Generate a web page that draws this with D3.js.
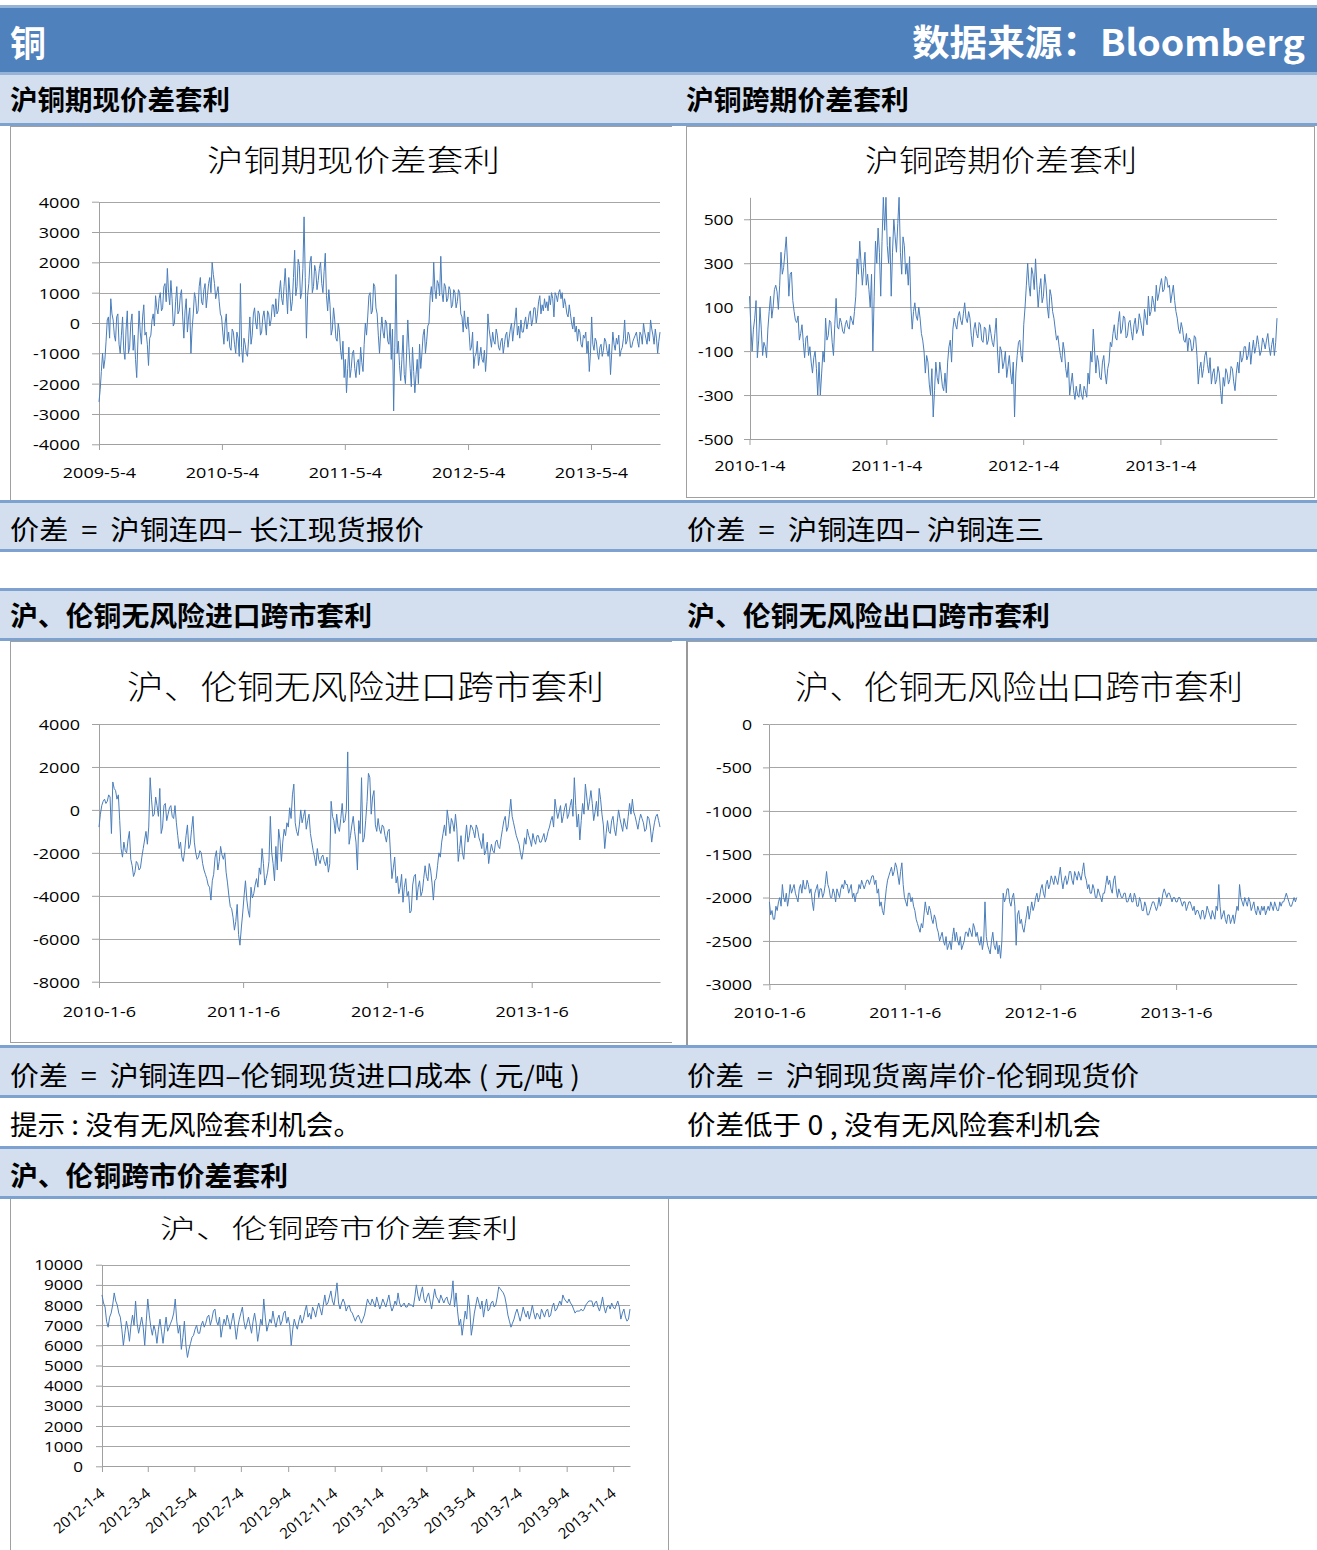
<!DOCTYPE html>
<html><head><meta charset="utf-8">
<script src="https://cdn.jsdelivr.net/npm/d3@7"></script>
<style>
html,body{margin:0;padding:0;background:#fff;}
svg{display:block;}
text{white-space:pre;}
</style></head><body>
<svg id="page" width="1317" height="1550"></svg>
<script>
// ---------------- DATA ----------------
// Chart 1: 沪铜期现价差套利 (samples every 84 hours from start date)
const c1Start = "2009-5-4", c1StepHours = 84;
const c1Values = [
-2600,-2200,-1600,-1000,-1500,-1200,-600,100,200,-500,800,300,100,-400,-600,200,300,-700,-1000,-400,
200,-900,-1200,-200,400,-1000,-800,0,300,-900,-400,-1200,-1800,-600,400,-300,-700,200,600,-400,
-300,-700,-1400,-500,-400,100,300,-100,900,500,300,800,1000,400,500,1200,1300,700,1800,1000,
600,1400,800,-100,0,700,1200,300,400,900,1100,200,-500,400,800,-300,200,500,-1000,-200,
300,1000,800,300,400,1200,1500,700,600,1100,1300,500,900,1300,1500,1000,2000,1600,1300,800,
1000,1200,700,300,200,-300,-700,0,300,-600,-300,-800,-900,-200,-300,-700,-1000,-300,-500,-1100,
1300,-800,-1300,-500,-700,-1000,-1100,-500,200,-700,-400,300,500,0,-200,400,300,-400,-300,200,
400,0,-400,400,300,-100,100,600,600,200,800,300,400,1000,1400,800,600,1200,1800,1000,
300,1500,1000,400,700,1500,2400,900,1200,2100,1900,800,1000,1800,3500,1500,-500,900,1300,2000,
2200,1000,1200,1900,1700,1100,1400,1800,2000,1300,1000,1700,2300,900,400,1100,600,-400,-200,500,
100,-500,-600,0,-300,-900,-1200,-600,-1800,-1200,-2300,-1500,-800,-1800,-1500,-1000,-900,-1500,-1800,-1300,
-1200,-1700,-800,-1300,-1600,-700,0,-400,200,900,1000,300,400,1300,1200,500,300,-400,-1000,-300,
200,-300,-500,100,0,-600,-700,0,-1200,-200,-2900,-800,1600,-1000,-600,-1400,-1900,-1200,-400,-1700,
-2000,-1000,100,-800,-1500,-2100,-800,-1600,-2300,-1700,-1200,-2000,-700,-1500,-1000,-400,-200,-1000,-600,-100,
0,900,1200,700,2000,1100,800,1400,1300,900,2200,1000,700,1300,1200,700,800,1200,1100,500,
600,1100,1000,500,700,1100,1000,300,200,-300,400,-100,-200,200,-300,-900,-800,-300,-1500,-1100,
-1000,-600,-1400,-1100,-800,-1200,-1300,-900,-1600,-1000,300,-200,-500,-800,-300,-600,-700,-200,-400,-800,
-900,-600,-500,-1000,-700,-400,-300,-800,-500,-200,0,-600,-200,100,500,-400,-100,-500,100,-300,
-300,0,200,-200,0,300,400,-100,100,500,500,0,300,700,900,300,600,400,800,500,
700,400,900,600,1000,800,200,1000,900,700,1000,1100,800,1000,500,800,600,300,200,600,
300,0,-200,200,-300,-100,-600,-200,-300,-700,-800,-400,-500,-300,-1000,-600,-1600,-1000,200,-700,
-900,-500,-600,-1000,-1200,-800,-700,-1100,-900,-500,-600,-900,-1100,-700,-1700,-1000,-300,-700,-900,-500,
-700,-400,-1100,-900,-800,-500,100,-700,-600,-300,-400,-800,-800,-600,-500,-400,-300,-600,-800,-300,
-400,-700,0,-300,-500,-700,-300,-600,100,-200,-400,-700,-200,-500,-1000,-600,-300];
const c1YTicks = [-4000,-3000,-2000,-1000,0,1000,2000,3000,4000];
const c1XTicks = ["2009-5-4","2010-5-4","2011-5-4","2012-5-4","2013-5-4"];

// Chart 2: 沪铜跨期价差套利 (samples every 84 hours)
const c2Start = "2010-1-4", c2StepHours = 84;
const c2Values = [
150,20,-100,0,50,130,-130,-50,100,0,-120,-60,-80,-130,0,80,150,50,100,180,
200,170,90,200,350,250,280,350,420,300,150,250,260,130,80,40,30,60,-50,-20,
20,-60,-130,-40,-30,-120,-80,-150,-200,-130,-100,-180,-300,-150,-300,-200,-100,-150,50,-50,
-30,40,30,-60,-120,20,140,10,0,50,30,-10,-20,20,40,10,0,60,40,20,
80,150,320,250,400,300,200,280,350,200,250,180,100,250,-100,150,400,300,460,350,
150,400,600,450,600,380,300,420,150,350,500,420,350,480,600,350,250,420,380,250,
300,200,330,100,0,80,120,60,40,100,50,-20,-50,-100,-200,-120,-150,-250,-300,-180,
-400,-280,-150,-220,-250,-150,-200,-260,-280,-200,-290,-150,-80,-50,-150,0,50,20,0,60,
80,40,20,70,120,50,30,80,50,-30,-80,0,30,-20,-40,30,20,-50,-60,10,
0,-70,-50,20,-20,-60,-80,-20,50,-100,-200,-80,-100,-180,-150,-100,-220,-170,-120,-200,
-250,-150,-400,-200,-120,-60,-50,-120,-150,20,100,200,300,200,150,280,250,180,320,200,
100,180,230,120,150,250,200,100,50,180,150,80,50,0,-50,-30,-80,-120,-150,-60,
-100,-180,-220,-150,-300,-250,-200,-280,-320,-260,-300,-310,-250,-300,-320,-260,-280,-310,-200,-250,
-100,-150,0,-100,-200,-120,-150,-220,-230,-150,-120,-200,-250,-180,-150,-60,-80,-20,20,-40,
-50,30,80,-20,0,60,50,-40,-30,30,40,-10,-50,20,50,-20,0,70,40,0,
-30,90,50,20,150,60,80,150,120,80,200,130,160,200,230,170,180,240,230,190,
200,120,160,200,130,80,50,0,-20,30,0,-50,-60,-20,-100,-40,-50,-100,-90,-30,
-40,-120,-250,-180,-150,-220,-180,-120,-100,-160,-200,-130,-250,-200,-180,-250,-230,-170,-200,-280,
-340,-220,-260,-180,-200,-250,-230,-170,-180,-240,-280,-200,-150,-200,-100,-150,-130,-80,-80,-140,
-120,-60,-160,-100,-50,-110,-80,-30,-70,-120,-100,-40,-60,-90,-50,-20,-80,-120,-70,-40,
-120,-60,50];
const c2YTicks = [-500,-300,-100,100,300,500];
const c2YMax = 600;
const c2XTicks = ["2010-1-4","2011-1-4","2012-1-4","2013-1-4"];

// Chart 3: 沪、伦铜无风险进口跨市套利 (samples every 84 hours)
const c3Start = "2010-1-6", c3StepHours = 84;
const c3Values = [
-800,-200,200,400,500,300,400,700,600,-1100,1300,1000,900,500,700,-500,-1800,-2200,-1500,-1900,
-2000,-1400,-1000,-2300,-2600,-3100,-2900,-2400,-2500,-2800,-2700,-2200,-1800,-1400,-1000,-1600,-800,1500,500,-300,
-200,600,200,-300,1000,-1100,-800,200,300,-500,-200,100,200,-300,-400,200,-600,-1200,-1800,-1500,
-2200,-2400,-1900,-1200,-700,-1800,-1600,-900,-300,-1500,-2000,-2300,-2200,-1900,-2000,-2500,-2800,-3000,-3200,-3500,
-3600,-4200,-3300,-3000,-2200,-1900,-2800,-2400,-1700,-2100,-2300,-2000,-2900,-3400,-4000,-4500,-4600,-5000,-5600,-5200,
-4400,-5800,-6300,-5500,-4800,-4000,-3300,-4200,-4700,-5000,-3600,-4100,-3900,-3500,-3200,-3600,-2700,-3000,-1800,-2500,
-3500,-3200,-2900,-2400,-300,-2000,-2500,-3300,-1700,-2800,-900,-1400,-2400,-1500,-900,-1200,-600,-800,100,-400,
700,1200,-600,-1000,-1200,-700,0,-600,-300,0,-900,-500,-200,-1100,-1500,-1900,-2200,-2600,-1800,-2300,
-2500,-2200,-2100,-2400,-2600,-2200,-2900,-2500,400,-300,-500,-1100,-200,-800,-1000,-400,300,-600,-500,0,
2700,-1600,-1200,-700,-300,-1000,-1500,-2800,-500,-1100,1500,-1500,-1300,-500,400,1700,1500,-200,600,900,
-700,-1000,-400,-900,-1100,-700,-800,-1200,-1500,-1000,-900,-2100,-3200,-2700,-2200,-3400,-3100,-3900,-3600,-3000,
-4300,-3600,-3200,-4000,-3800,-4800,-4700,-3500,-3100,-3000,-4200,-3600,-3300,-4000,-3800,-3200,-2600,-3100,-3300,-2500,
-2800,-3400,-4200,-3300,-3200,-2600,-2000,-2200,-1500,-1100,-700,-1200,0,-500,-1100,-400,-600,-1000,-200,-900,
-2400,-1800,-1200,-2000,-2300,-1400,-700,-1500,-1200,-700,-800,-1000,-1300,-700,-900,-1300,-1500,-1800,-1100,-2100,
-1900,-1500,-2500,-2000,-1600,-1900,-2000,-1500,-1400,-1700,-1800,-1300,-900,-500,-300,-1000,-800,-200,500,-300,
-600,-900,-1200,-1400,-1600,-2000,-2300,-1900,-1300,-1600,-900,-1200,-1400,-1700,-1100,-1400,-1600,-1200,-1200,-1500,
-1500,-1300,-1100,-1500,-1300,-1000,-800,-500,-300,-800,500,0,-400,-100,200,-600,-300,100,300,-400,
-200,200,500,-300,1500,200,-800,-200,-1400,-500,300,-200,1200,600,0,400,900,300,-500,-100,
400,-300,1000,500,-200,-700,-1800,-1100,-500,-1000,-1100,-500,-300,-900,-1200,-600,0,-400,-700,-1000,
-400,-700,-900,-300,300,-200,500,-100,-300,-600,-900,-500,-200,-400,-600,-1000,-900,-300,-400,-800,
-1500,-1000,-600,-300,-200,-500,-800];
const c3YTicks = [-8000,-6000,-4000,-2000,0,2000,4000];
const c3XTicks = ["2010-1-6","2011-1-6","2012-1-6","2013-1-6"];

// Chart 4: 沪、伦铜无风险出口跨市套利 (samples every 84 hours)
const c4Start = "2010-1-6", c4StepHours = 84;
const c4Values = [
-2050,-2200,-2150,-2250,-2250,-2100,-2150,-2050,-2000,-2100,-1850,-2000,-2050,-1950,-2100,-2000,-1850,-1950,-1900,-1850,
-1950,-2000,-2050,-1900,-1850,-1950,-1800,-1900,-1900,-1800,-1850,-1950,-1900,-2050,-2150,-1950,-1900,-1850,-2000,-1900,
-1900,-2000,-1950,-1850,-1700,-1850,-1900,-2000,-2000,-1900,-1950,-2050,-1900,-1950,-2000,-1900,-1850,-1900,-1800,-1850,
-1850,-1950,-1900,-1850,-2000,-1950,-2050,-1950,-1950,-1850,-1900,-1800,-1850,-1900,-1850,-1800,-1800,-1850,-1800,-1750,
-1750,-1850,-1800,-1950,-1900,-2100,-2050,-2150,-2200,-2050,-1900,-1800,-1750,-1700,-1650,-1750,-1700,-1600,-1650,-1750,
-1850,-1700,-1600,-1850,-2000,-2050,-2100,-1950,-1950,-2050,-2000,-2100,-2150,-2250,-2300,-2350,-2400,-2300,-2350,-2200,
-2050,-2150,-2200,-2100,-2150,-2250,-2300,-2200,-2250,-2350,-2400,-2500,-2450,-2400,-2500,-2550,-2450,-2600,-2550,-2500,
-2600,-2450,-2350,-2500,-2400,-2500,-2550,-2450,-2600,-2550,-2500,-2400,-2400,-2450,-2350,-2400,-2450,-2300,-2350,-2450,
-2400,-2500,-2550,-2450,-2600,-2500,-2050,-2450,-2550,-2600,-2650,-2500,-2400,-2550,-2600,-2500,-2650,-2550,-2700,-2500,
-1950,-2050,-2000,-1900,-1900,-2050,-2100,-2000,-1950,-2100,-2550,-2200,-2150,-2300,-2250,-2350,-2400,-2300,-2200,-2100,
-2250,-2150,-2050,-2150,-2100,-2000,-1950,-2050,-2000,-1900,-1850,-1950,-2000,-1850,-1800,-1900,-1850,-1750,-1800,-1850,
-1750,-1800,-1850,-1750,-1650,-1800,-1900,-1800,-1750,-1850,-1800,-1700,-1700,-1800,-1850,-1700,-1750,-1800,-1700,-1750,
-1800,-1700,-1600,-1750,-1800,-1900,-1850,-1950,-1950,-1850,-1900,-2000,-2000,-1900,-1950,-2000,-2050,-1950,-1950,-1850,
-1750,-1850,-1800,-1900,-1950,-1800,-1750,-1900,-2000,-1900,-1950,-2000,-2000,-1950,-1950,-2050,-2050,-2000,-1950,-2050,
-2050,-1950,-2000,-2100,-2100,-2000,-2050,-2150,-2150,-2050,-2100,-2200,-2200,-2150,-2100,-2050,-2050,-2100,-2150,-2100,
-2000,-2100,-2050,-1950,-1900,-1950,-2000,-1950,-1950,-2000,-2050,-2000,-2000,-2050,-2050,-2000,-2000,-2050,-2100,-2050,
-2050,-2150,-2100,-2050,-2050,-2100,-2150,-2100,-2200,-2150,-2150,-2200,-2250,-2150,-2150,-2250,-2200,-2100,-2150,-2200,
-2250,-2150,-2200,-2250,-2100,-2150,-1850,-2100,-2250,-2200,-2150,-2250,-2300,-2200,-2200,-2300,-2250,-2200,-2300,-2200,
-2100,-2150,-1850,-2000,-2050,-2100,-2000,-2050,-2100,-2000,-2050,-2150,-2100,-2050,-2150,-2200,-2100,-2150,-2200,-2100,
-2150,-2100,-2200,-2150,-2100,-2150,-2050,-2100,-2150,-2050,-2100,-2150,-2150,-2050,-2100,-2050,-2050,-2000,-1950,-2000,
-2050,-2100,-2100,-2050,-2000,-2050,-2000];
const c4YTicks = [-3000,-2500,-2000,-1500,-1000,-500,0];
const c4XTicks = ["2010-1-6","2011-1-6","2012-1-6","2013-1-6"];

// Chart 5: 沪、伦铜跨市价差套利 (samples every 2 days)
const c5Start = "2012-1-4", c5StepHours = 48;
const c5Values = [
8500,8100,7900,7200,6900,7400,7600,8000,8600,8200,8000,7600,7400,6800,6000,6600,7200,6800,6200,7000,
7500,7000,8200,7100,6600,7000,7400,6900,6000,7200,8300,7500,6900,6500,7000,6700,6100,6800,7300,6700,
6100,6800,7400,6700,6900,7100,7300,7600,8300,7200,6600,7000,5800,6400,7200,6000,5400,5800,6100,6400,
6500,6800,7000,6600,6600,7000,7200,6900,7100,7400,7500,7000,7300,7700,7800,7200,7000,7400,6400,6900,
7300,7000,7500,7200,6800,7200,7600,7000,6300,6900,7300,7600,7900,7200,6800,7100,7400,7000,6600,7200,
7600,7100,6200,6700,7300,7000,8300,7400,6700,7000,7300,7100,7700,7200,6900,7300,7500,7000,7200,7600,
7700,7100,7400,7000,6000,6800,7300,7000,6800,7200,7500,7100,7300,7700,8000,7400,7600,7300,7900,7700,
7400,7800,8100,7800,7500,8000,8500,8000,8100,8400,8700,8200,8000,8500,9100,8100,7800,8100,8300,8100,
7700,7900,8000,7700,7600,7400,7200,7400,7500,7300,7100,7300,7500,7900,8300,8100,8000,8300,8100,7900,
8400,8100,7800,8000,8300,8100,7900,8200,8500,8000,7700,7900,8200,8000,8600,8100,7900,8000,8100,7900,
7900,8100,8000,8000,7900,8400,9000,8500,8200,8600,8900,8300,8100,8400,8600,8200,7800,8300,8800,8400,
8300,8100,8500,8300,8100,8300,8400,8100,8000,8400,9200,7900,8600,7700,7000,7300,6500,7100,7700,7300,
8500,7800,6500,7000,7600,8000,8400,8100,7800,8200,7400,7900,8300,7700,7800,8100,8200,7900,8000,8400,
8900,8800,8700,8600,8400,8000,7500,7200,6900,7100,7300,7600,7800,7500,7200,7500,7900,7600,7400,7700,
7300,7600,8000,7600,7300,7600,7500,7300,7800,7600,7400,7700,7800,7400,7500,7900,8100,7700,7800,8000,
8200,8000,8500,8300,8200,8100,8300,8100,8000,7800,7600,7700,7700,7700,7800,7700,7800,8000,8100,8200,
8200,8200,7900,8100,8200,7900,7700,8000,8400,7900,7600,7900,8000,7800,8100,7900,7800,8000,8200,7900,
7300,7600,7800,7400,7200,7300,7800];
const c5YTicks = [0,1000,2000,3000,4000,5000,6000,7000,8000,9000,10000];
const c5XTicks = ["2012-1-4","2012-3-4","2012-5-4","2012-7-4","2012-9-4","2012-11-4",
                  "2013-1-4","2013-3-4","2013-5-4","2013-7-4","2013-9-4","2013-11-4"];

// ---------------- DRAWING ----------------
const svg = d3.select("#page");
const FONT_CJK = "'Noto Sans CJK SC','Noto Sans',sans-serif";
const FONT_NUM = "'Open Sans','Noto Sans',sans-serif";
const DARK = "#4f81bd", PALE = "#d3dfee", RULE = "#7da2cf", LIGHT = "#95b3d7";
const GRID = "#a6a6a6", AXIS = "#a0a0a0", BORDER = "#a0a0a0", SERIES = "#4a7ebb";
const parse = d3.utcParse("%Y-%m-%d");

function box(x, y, w, h, fill, stroke) {
  svg.append("rect").attr("x", x).attr("y", y).attr("width", w).attr("height", h)
    .attr("fill", fill || "none").attr("stroke", stroke || "none")
    .attr("shape-rendering", "crispEdges");
}
function rule(x1, y1, x2, y2, color, w) {
  svg.append("line").attr("x1", x1).attr("y1", y1).attr("x2", x2).attr("y2", y2)
    .attr("stroke", color).attr("stroke-width", w || 1).attr("shape-rendering", "crispEdges");
}
function label(x, y, s, o) {
  const t = svg.append("text").attr("x", x).attr("y", y).text(s)
    .attr("xml:space", "preserve")
    .attr("font-family", FONT_CJK).attr("font-size", o.size)
    .attr("font-weight", o.weight || 400).attr("fill", o.fill || "#000")
    .attr("text-anchor", o.anchor || "start");
  if (o.len) t.attr("textLength", o.len).attr("lengthAdjust", "spacingAndGlyphs");
  return t;
}

// chart frames (charts 1 and 3 have no right edge)
rule(10, 126.5, 672, 126.5, BORDER); rule(10.5, 126, 10.5, 500, BORDER);
box(686.5, 126.5, 628, 370.5, "none", BORDER);
rule(10, 641.5, 672, 641.5, BORDER); rule(10.5, 641, 10.5, 1042, BORDER); rule(10, 1042.5, 672, 1042.5, BORDER);
rule(686, 641.5, 1317, 641.5, BORDER); rule(687, 641, 687, 1045, "#999", 2);
rule(10.5, 1199, 10.5, 1550, BORDER); rule(668.5, 1199, 668.5, 1550, BORDER);

// header
box(0, 5, 1317, 3, LIGHT);
box(0, 8, 1317, 64, DARK);
box(0, 72, 1317, 3, LIGHT);
box(0, 75, 1317, 48, PALE);
box(0, 123, 1317, 3, RULE);
label(10, 57, "铜", {size: 36, weight: 700, fill: "#fff", len: 36});
label(1305, 56, "数据来源：Bloomberg", {size: 36, weight: 700, fill: "#fff", anchor: "end", len: 393});
label(10, 110, "沪铜期现价差套利", {size: 27, weight: 700, len: 220});
label(686, 110, "沪铜跨期价差套利", {size: 27, weight: 700, len: 223});

// pale bands with rules
function band(y0, y1) {
  box(0, y0, 1317, 3, RULE);
  box(0, y0 + 3, 1317, y1 - y0 - 6, PALE);
  box(0, y1 - 3, 1317, 3, RULE);
}
band(500, 552);
label(10, 540, "价差  =  沪铜连四– 长江现货报价", {size: 27, len: 414});
label(687, 540, "价差  =  沪铜连四– 沪铜连三", {size: 27, len: 357});
band(588, 641);
label(10, 626, "沪、伦铜无风险进口跨市套利", {size: 27, weight: 700, len: 362});
label(687, 626, "沪、伦铜无风险出口跨市套利", {size: 27, weight: 700, len: 363});
band(1045, 1098);
label(10, 1086, "价差  =  沪铜连四–伦铜现货进口成本 ( 元/吨 )", {size: 27, len: 570});
label(687, 1086, "价差  =  沪铜现货离岸价-伦铜现货价", {size: 27, len: 452});
label(10, 1135, "提示 : 没有无风险套利机会。", {size: 27, len: 351});
label(687, 1135, "价差低于 0 , 没有无风险套利机会", {size: 27, len: 414});
band(1146, 1199);
label(10, 1186, "沪、伦铜跨市价差套利", {size: 27, weight: 700, len: 278});

// chart titles
label(207, 171, "沪铜期现价差套利", {size: 30, weight: 300, len: 293});
label(865, 171, "沪铜跨期价差套利", {size: 30, weight: 300, len: 272});
label(127, 699, "沪、伦铜无风险进口跨市套利", {size: 33, weight: 300, len: 477});
label(795, 699, "沪、伦铜无风险出口跨市套利", {size: 33, weight: 300, len: 448});
label(160, 1238, "沪、伦铜跨市价差套利", {size: 26, weight: 300, len: 358});

const charts = [
  {start: c1Start, step: c1StepHours, values: c1Values, yTicks: c1YTicks, yDomain: [-4000, 4000], xTicks: c1XTicks,
   x0: 99, x1: 660, yBot: 444.3, yTop: 201.7, ySize: 7, yLab: 19, xLab: 33.7, font: 15, k: 1.2},
  {start: c2Start, step: c2StepHours, values: c2Values, yTicks: c2YTicks, yDomain: [-500, c2YMax], xTicks: c2XTicks,
   x0: 749.5, x1: 1277, yBot: 439, yTop: 197.3, ySize: 6, yLab: 16.5, xLab: 32, font: 14.5, k: 1.2},
  {start: c3Start, step: c3StepHours, values: c3Values, yTicks: c3YTicks, yDomain: [-8000, 4000], xTicks: c3XTicks,
   x0: 99, x1: 660, yBot: 981.7, yTop: 724, ySize: 7, yLab: 19, xLab: 35.3, font: 15, k: 1.2},
  {start: c4Start, step: c4StepHours, values: c4Values, yTicks: c4YTicks, yDomain: [-3000, 0], xTicks: c4XTicks,
   x0: 769.4, x1: 1296.7, yBot: 984.3, yTop: 724, ySize: 6, yLab: 17, xLab: 34, font: 15, k: 1.18},
  {start: c5Start, step: c5StepHours, values: c5Values, yTicks: c5YTicks, yDomain: [0, 10000], xTicks: c5XTicks,
   x0: 102, x1: 630, yBot: 1466.3, yTop: 1264.7, ySize: 6, yLab: 19, xLab: 25, font: 14, k: 1.22, rotate: true}
];

function stretch(sel, k) {
  sel.each(function () {
    const L = this.getComputedTextLength();
    if (L > 0) d3.select(this).attr("textLength", L * k).attr("lengthAdjust", "spacingAndGlyphs");
  });
}

charts.forEach(c => {
  const start = parse(c.start);
  const dates = c.values.map((v, i) => d3.utcHour.offset(start, i * c.step));
  const x = d3.scaleUtc().domain([start, dates[dates.length - 1]]).range([c.x0, c.x1]);
  const y = d3.scaleLinear().domain(c.yDomain).range([c.yBot, c.yTop]);
  const g = svg.append("g");

  g.append("g").selectAll("line").data(c.yTicks).join("line")
    .attr("x1", c.x0).attr("x2", c.x1)
    .attr("y1", d => Math.round(y(d)) + 0.5).attr("y2", d => Math.round(y(d)) + 0.5)
    .attr("stroke", GRID).attr("stroke-width", 1);

  const ya = g.append("g").attr("transform", `translate(${Math.round(c.x0)},0)`)
    .call(d3.axisLeft(y).tickValues(c.yTicks).tickSize(c.ySize).tickSizeOuter(0)
      .tickPadding(c.yLab - c.ySize).tickFormat(d => String(d)));
  const xa = g.append("g").attr("transform", `translate(0,${Math.round(c.yBot)})`)
    .call(d3.axisBottom(x).tickValues(c.xTicks.map(parse)).tickSize(6).tickSizeOuter(0)
      .tickFormat((d, i) => c.xTicks[i]));

  [ya, xa].forEach(a => {
    a.select(".domain").attr("stroke", AXIS);
    a.selectAll(".tick line").attr("stroke", AXIS);
    a.selectAll(".tick text").attr("fill", "#000").attr("font-family", FONT_NUM).attr("font-size", c.font);
  });
  ya.selectAll(".tick text").attr("dy", "0.36em");
  if (c.rotate) {
    xa.selectAll(".tick text").attr("x", 0).attr("y", 0).attr("dy", "0.35em")
      .attr("text-anchor", "end").attr("font-size", 15)
      .attr("transform", `translate(0,${c.xLab}) rotate(-40)`);
  } else {
    xa.selectAll(".tick text").attr("y", c.xLab).attr("dy", null);
    stretch(xa.selectAll(".tick text"), c.k);
  }
  stretch(ya.selectAll(".tick text"), c.k);

  g.append("path").datum(c.values)
    .attr("fill", "none").attr("stroke", SERIES).attr("stroke-width", 1)
    .attr("stroke-linejoin", "round")
    .attr("d", d3.line().x((d, i) => x(dates[i])).y(d => y(d)));
});
</script>
</body></html>
